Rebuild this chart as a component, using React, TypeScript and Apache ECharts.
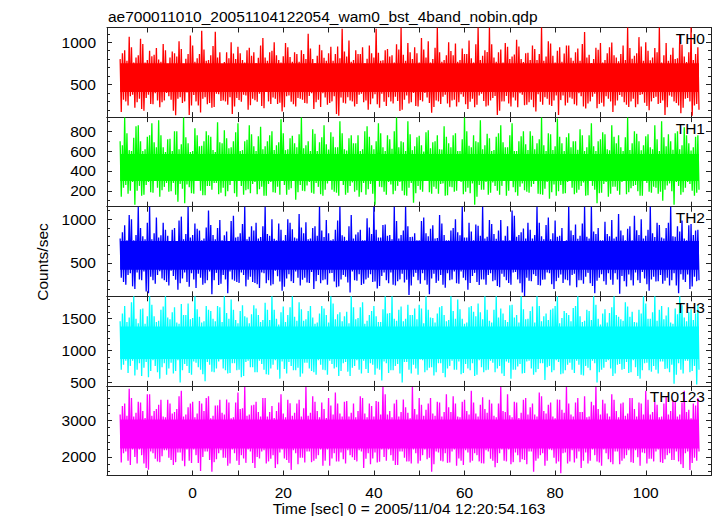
import React, { useEffect, useRef } from 'react';
import * as echarts from 'echarts';

const chartTitle = 'ae700011010_20051104122054_wam0_bst_4band_nobin.qdp';
const xTitle = 'Time [sec] 0 = 2005/11/04 12:20:54.163';
const yTitle = 'Counts/sec';
const bandNames = ['TH0', 'TH1', 'TH2', 'TH3', 'TH0123'];
const bandColors = ['#ff0000', '#00ff00', '#0000ff', '#00ffff', '#ff00ff'];

// time axis (seconds)
const xMin = -18.9;
const xMax = 114.4;
const binStart = -16;
const binWidth = 1;

// count-rate axes per panel
const yMins = [114, 40, 116, 446, 1497];
const yMaxs = [1174, 943, 1144, 1852, 3929];
const ySplit = [2, 5, 2, 3, 2];
const yMinorSplit = [5, 2, 5, 5, 5];

// dense core of each light curve (counts/sec)
const coreLo = [410, 300, 420, 870, 2230];
const coreHi = [750, 570, 750, 1380, 3020];

// upper / lower excursions, first half of each second
const th0Hi = [
  800, 905, 1065, 760, 845, 980, 790, 835, 930, 770,
  905, 820, 870, 1010, 745, 860, 960, 810, 1135, 780,
  845, 1125, 880, 765, 810, 865, 945, 790, 905, 840,
  755, 960, 820, 880, 1000, 790, 835, 940, 770, 860,
  905, 800, 925, 755, 970, 815, 870, 780, 950, 1160,
  830, 770, 905, 860, 750, 960, 820, 875, 785, 920,
  845, 975, 1170, 780, 880, 940, 760, 915, 1010, 800,
  1175, 770, 845, 895, 985, 790, 860, 1020, 760, 1175,
  840, 885, 975, 770, 915, 990, 800, 855, 950, 765,
  875, 960, 790, 1175, 830, 985, 760, 940, 865, 960,
  780, 925, 980, 820, 755, 935, 990, 790, 940, 845,
  775, 960, 1175, 805, 870, 950, 1000, 785, 930, 1175,
  845, 780, 935, 810, 970, 765, 1175, 860,
];
const th0Lo = [
  175, 300, 360, 225, 330, 190, 380, 265, 310, 290,
  400, 320, 135, 350, 300, 140, 375, 250, 330, 265,
  225, 390, 305, 300, 350, 240, 315, 380, 200, 330,
  295, 245, 410, 270, 330, 285, 230, 370, 265, 340,
  320, 275, 395, 290, 235, 345, 280, 360, 130, 285,
  350, 300, 270, 390, 310, 265, 385, 225, 295, 350,
  275, 305, 200, 370, 290, 245, 315, 400, 280, 235,
  300, 355, 275, 310, 240, 385, 265, 295, 230, 370,
  305, 250, 340, 140, 300, 365, 240, 310, 395, 255,
  290, 230, 385, 260, 330, 245, 370, 315, 250, 345,
  265, 395, 240, 275, 355, 220, 285, 360, 300, 250,
  375, 290, 235, 330, 265, 385, 245, 300, 355, 280,
  140, 370, 300, 250, 225, 340, 130, 270,
];
const th1Hi = [
  700, 940, 610, 735, 860, 600, 745, 880, 640, 760,
  590, 725, 800, 620, 940, 680, 600, 760, 655, 800,
  745, 590, 690, 810, 630, 700, 880, 610, 715, 770,
  600, 845, 650, 760, 610, 690, 780, 620, 755, 640,
  940, 660, 600, 775, 690, 860, 615, 745, 640, 780,
  605, 760, 680, 600, 800, 745, 620, 880, 640, 760,
  625, 940, 700, 600, 770, 650, 755, 595, 810, 690,
  760, 615, 745, 640, 780, 600, 940, 655, 760, 690,
  620, 775, 600, 745, 860, 640, 760, 600, 700, 800,
  610, 755, 680, 940, 600, 770, 650, 745, 600, 780,
  700, 615, 760, 640, 880, 600, 720, 770, 610, 745,
  760, 600, 940, 680, 775, 610, 750, 640, 860, 600,
  740, 770, 615, 800, 660, 760, 605, 745,
];
const th1Lo = [
  140, 260, 200, 60, 250, 160, 290, 180, 230, 205,
  280, 195, 160, 270, 75, 235, 170, 300, 155, 250,
  210, 280, 180, 145, 260, 175, 300, 160, 215, 270,
  165, 240, 150, 290, 180, 160, 260, 210, 300, 185,
  200, 255, 180, 280, 165, 210, 300, 190, 150, 260,
  180, 285, 205, 185, 160, 270, 60, 240, 190, 290,
  165, 250, 200, 150, 280, 175, 210, 300, 185, 240,
  170, 275, 155, 235, 200, 290, 190, 175, 60, 260,
  210, 160, 285, 200, 250, 150, 300, 185, 240, 205,
  180, 270, 170, 160, 290, 185, 150, 260, 175, 300,
  165, 210, 285, 155, 250, 75, 180, 290, 170, 240,
  160, 300, 185, 250, 195, 150, 280, 180, 230, 190,
  210, 275, 60, 250, 185, 290, 200, 180,
];
const th2Hi = [
  780, 930, 1050, 760, 1144, 805, 960, 770, 1020, 815,
  880, 745, 900, 985, 770, 1144, 820, 890, 760, 905,
  935, 770, 990, 815, 750, 1040, 800, 945, 770, 920,
  960, 795, 1144, 810, 775, 950, 760, 1000, 885, 780,
  905, 965, 780, 920, 1144, 795, 840, 770, 985, 815,
  760, 1050, 825, 880, 760, 905, 1144, 790, 935, 810,
  770, 980, 820, 1144, 795, 840, 760, 1020, 805, 930,
  785, 950, 760, 870, 1000, 815, 790, 960, 760, 925,
  1144, 800, 945, 775, 990, 810, 760, 1040, 820, 895,
  960, 780, 1144, 805, 935, 770, 985, 810, 750, 1144,
  820, 775, 950, 800, 1144, 830, 760, 970, 805, 780,
  1060, 815, 890, 760, 875, 1000, 810, 1144, 795, 935,
  780, 960, 805, 920, 985, 760, 945, 870,
];
const th2Lo = [
  330, 250, 380, 200, 310, 400, 150, 300, 360, 320,
  280, 410, 305, 265, 390, 225, 310, 375, 250, 300,
  140, 385, 260, 310, 400, 295, 270, 360, 305, 280,
  255, 390, 265, 240, 410, 285, 225, 370, 270, 330,
  305, 275, 395, 290, 265, 310, 380, 285, 230, 360,
  275, 400, 295, 245, 310, 370, 285, 235, 390, 265,
  250, 290, 375, 305, 240, 385, 260, 300, 140, 375,
  295, 250, 380, 310, 265, 400, 300, 270, 385, 245,
  310, 360, 290, 235, 375, 300, 250, 395, 265, 120,
  295, 370, 245, 305, 390, 255, 290, 365, 310, 240,
  375, 300, 260, 385, 235, 295, 370, 250, 305, 380,
  145, 290, 365, 240, 300, 395, 255, 310, 285, 360,
  295, 240, 380, 150, 305, 365, 230, 290,
];
const th3Hi = [
  1460, 1700, 1520, 1852, 1430, 1660, 1540, 1720, 1450, 1640,
  1852, 1490, 1680, 1420, 1560, 1740, 1510, 1650, 1440, 1700,
  1620, 1460, 1680, 1852, 1500, 1640, 1430, 1710, 1520, 1570,
  1660, 1450, 1750, 1480, 1640, 1410, 1690, 1560, 1852, 1470,
  1650, 1490, 1700, 1420, 1580, 1660, 1440, 1740, 1570, 1460,
  1610, 1852, 1490, 1680, 1420, 1560, 1700, 1450, 1650, 1580,
  1852, 1470, 1690, 1500, 1560, 1660, 1720, 1430, 1640, 1510,
  1580, 1700, 1460, 1852, 1500, 1650, 1420, 1680, 1610, 1740,
  1490, 1640, 1440, 1852, 1660, 1480, 1710, 1520, 1440, 1650,
  1500, 1690, 1852, 1460, 1580, 1640, 1700, 1430, 1620, 1560,
  1670, 1852, 1450, 1640, 1480, 1720, 1410, 1650, 1590, 1852,
  1530, 1470, 1690, 1610, 1440, 1580, 1740, 1500, 1852, 1640,
  1490, 1680, 1420, 1570, 1710, 1460, 1650, 1580,
];
const th3Lo = [
  700, 840, 760, 610, 800, 730, 580, 850, 660, 740,
  620, 810, 680, 500, 790, 650, 830, 740, 630, 820,
  670, 720, 860, 690, 650, 800, 700, 600, 840, 740,
  660, 790, 630, 720, 850, 560, 710, 820, 690, 730,
  640, 810, 680, 620, 780, 690, 840, 720, 600, 800,
  670, 730, 850, 640, 710, 800, 620, 700, 830, 650,
  690, 790, 500, 820, 640, 720, 860, 660, 730, 610,
  800, 650, 720, 840, 700, 630, 790, 690, 600, 850,
  660, 700, 810, 720, 640, 830, 560, 700, 790, 650,
  840, 620, 710, 800, 740, 660, 850, 630, 690, 810,
  650, 780, 610, 730, 840, 500, 700, 820, 720, 640,
  790, 710, 650, 850, 600, 690, 810, 670, 700, 830,
  710, 660, 480, 800, 640, 840, 680, 470,
];
const th0123Hi = [
  3150, 3450, 3850, 3100, 3500, 3250, 3700, 3120, 3300, 3550,
  3080, 3450, 3220, 3650, 3100, 3350, 3500, 3180, 3450, 3600,
  3050, 3400, 3550, 3150, 3480, 3080, 3750, 3320, 3120, 3400,
  3500, 3100, 3600, 3220, 3060, 3480, 3180, 3550, 3120, 3450,
  3100, 3900, 3200, 3500, 3080, 3300, 3600, 3150, 3450, 3100,
  3520, 3200, 3080, 3650, 3180, 3450, 3100, 3500, 3900, 3150,
  3080, 3550, 3220, 3350, 3050, 3300, 3600, 3120, 3450, 3180,
  3500, 3100, 3700, 3220, 3450, 3080, 3550, 3150, 3480, 3100,
  3620, 3200, 3450, 3080, 3900, 3220, 3130, 3500, 3060, 3550,
  3150, 3450, 3100, 3650, 3180, 3480, 3050, 3550, 3200, 3450,
  3100, 3600, 3220, 3080, 3500, 3900, 3150, 3450, 3100, 3550,
  3080, 3480, 3180, 3600, 3100, 3450, 3800, 3150, 3500, 3080,
  3450, 3150, 3550, 3100, 3480, 3220, 3050, 3400,
];
const th0123Lo = [
  1850, 2150, 1780, 2000, 2200, 1820, 1650, 2100, 1880, 2020,
  2180, 1920, 1860, 2120, 1750, 1900, 2200, 1840, 2000, 2150,
  1600, 1940, 2180, 1980, 1820, 2100, 1780, 1960, 2200, 1840,
  2000, 2150, 1820, 1950, 1700, 2120, 1960, 1840, 2180, 1800,
  1980, 2150, 1860, 1950, 2200, 1900, 1760, 2100, 1880, 1940,
  2180, 1990, 1880, 2150, 1950, 1800, 2120, 1870, 2000, 2200,
  1900, 1780, 2150, 1880, 1820, 2100, 1900, 2200, 1980, 1800,
  2120, 1880, 1840, 2150, 1760, 1900, 2180, 1850, 2100, 1880,
  1820, 2150, 1900, 1840, 2200, 1880, 1800, 2120, 1860, 1920,
  2150, 1600, 1960, 2100, 1900, 2180, 1820, 1560, 2120, 1880,
  1850, 2150, 1900, 1820, 2200, 1880, 1760, 2100, 1860, 2150,
  1800, 1960, 2180, 1840, 1990, 2120, 1820, 1950, 2150, 1860,
  1940, 2100, 1920, 1880, 1700, 2150, 1840, 1900,
];

// upper / lower excursions, second half of each second
const th0HiB = [
  870, 780, 940, 820, 1040, 760, 900, 850, 795, 980,
  745, 890, 830, 920, 805, 1080, 770, 860, 915, 790,
  955, 820, 740, 880, 1000, 800, 870, 760, 935, 880,
  815, 1050, 780, 900, 845, 760, 990, 825, 880, 770,
  860, 1100, 800, 840, 905, 780, 945, 860, 810, 890,
  1020, 790, 860, 940, 805, 870, 1160, 780, 905, 830,
  760, 915, 850, 990, 800, 870, 1050, 820, 760, 935,
  880, 790, 1000, 845, 770, 925, 860, 810, 975, 790,
  905, 1175, 820, 880, 760, 945, 830, 1030, 800, 870,
  790, 920, 860, 780, 1010, 840, 900, 770, 960, 815,
  880, 780, 1120, 850, 800, 910, 760, 870, 995, 820,
  860, 790, 930, 840, 1060, 780, 900, 820, 880, 760,
  990, 850, 800, 1090, 830, 880, 790, 940,
];
const th0LoB = [
  320, 250, 380, 290, 210, 340, 270, 395, 230, 310,
  360, 190, 330, 280, 405, 250, 300, 170, 350, 280,
  235, 385, 310, 260, 150, 340, 295, 370, 255, 315,
  390, 220, 300, 345, 270, 180, 360, 295, 240, 330,
  280, 365, 210, 320, 395, 260, 300, 150, 345, 275,
  310, 240, 380, 290, 200, 335, 265, 390, 245, 300,
  355, 185, 320, 275, 400, 240, 300, 345, 165, 310,
  270, 380, 230, 320, 290, 355, 210, 330, 260, 390,
  240, 310, 365, 190, 300, 275, 345, 230, 380, 260,
  320, 180, 295, 350, 260, 310, 140, 370, 285, 330,
  250, 360, 215, 300, 390, 270, 240, 330, 175, 310,
  355, 260, 300, 230, 375, 285, 195, 340, 270, 310,
  230, 355, 280, 160, 330, 300, 250, 200,
];
const th1HiB = [
  660, 780, 600, 850, 700, 620, 760, 690, 910, 640,
  720, 600, 800, 670, 740, 590, 830, 650, 700, 760,
  610, 890, 680, 730, 640, 790, 600, 700, 860, 650,
  750, 620, 700, 800, 660, 920, 610, 730, 680, 770,
  630, 700, 820, 600, 740, 670, 790, 640, 900, 620,
  730, 680, 760, 620, 850, 660, 700, 780, 600, 720,
  800, 640, 690, 900, 610, 740, 660, 790, 630, 700,
  620, 850, 680, 760, 600, 720, 800, 640, 700, 910,
  660, 730, 610, 780, 690, 640, 880, 600, 750, 670,
  800, 620, 720, 660, 780, 610, 930, 680, 740, 640,
  700, 820, 600, 760, 650, 700, 790, 620, 860, 680,
  640, 740, 610, 800, 700, 660, 770, 620, 720, 900,
  650, 700, 780, 620, 840, 680, 640, 760,
];
const th1LoB = [
  230, 170, 290, 200, 150, 260, 185, 300, 140, 240,
  190, 280, 90, 220, 265, 175, 300, 200, 155, 250,
  280, 165, 230, 195, 310, 140, 250, 205, 175, 290,
  215, 150, 270, 185, 240, 300, 160, 225, 110, 260,
  195, 290, 170, 240, 150, 275, 210, 180, 300, 160,
  250, 190, 140, 280, 215, 170, 300, 235, 160, 265,
  200, 290, 155, 230, 80, 250, 190, 300, 170, 220,
  270, 150, 240, 190, 300, 165, 230, 275, 140, 210,
  290, 180, 250, 160, 300, 200, 235, 150, 275, 190,
  240, 300, 165, 220, 120, 265, 195, 170, 290, 230,
  180, 250, 150, 300, 210, 175, 270, 140, 240, 200,
  290, 165, 225, 260, 150, 300, 190, 240, 170, 100,
  255, 195, 290, 160, 230, 270, 150, 210,
];
const th2HiB = [
  850, 760, 1000, 820, 900, 770, 1144, 840, 790, 960,
  810, 880, 750, 1030, 830, 790, 950, 870, 780, 1100,
  820, 900, 760, 860, 980, 790, 840, 1144, 800, 870,
  780, 920, 830, 1000, 760, 880, 820, 960, 790, 1060,
  840, 770, 900, 810, 870, 990, 760, 880, 1144, 800,
  920, 780, 850, 760, 1010, 830, 880, 790, 940, 820,
  1144, 780, 870, 920, 800, 760, 980, 840, 890, 780,
  1050, 820, 760, 900, 850, 1144, 790, 860, 940, 810,
  780, 990, 830, 870, 760, 920, 1100, 800, 850, 780,
  880, 820, 960, 770, 1020, 840, 800, 900, 760, 870,
  940, 810, 1144, 780, 860, 900, 760, 830, 990, 800,
  870, 760, 920, 1040, 820, 780, 880, 840, 960, 790,
  900, 1144, 800, 860, 780, 930, 820, 880,
];
const th2LoB = [
  280, 360, 230, 390, 300, 170, 340, 260, 405, 300,
  240, 350, 190, 320, 280, 380, 210, 330, 265, 400,
  300, 245, 360, 150, 310, 280, 390, 230, 340, 270,
  210, 380, 300, 255, 345, 180, 320, 290, 400, 240,
  330, 270, 200, 360, 300, 250, 385, 220, 310, 340,
  160, 300, 370, 260, 330, 280, 205, 350, 300, 390,
  240, 310, 275, 130, 340, 300, 380, 250, 320, 270,
  360, 215, 300, 400, 260, 330, 190, 350, 280, 310,
  250, 380, 300, 220, 340, 270, 390, 310, 160, 330,
  290, 350, 240, 310, 380, 200, 330, 270, 300, 360,
  220, 300, 340, 265, 150, 330, 290, 380, 250, 310,
  350, 230, 300, 390, 270, 320, 180, 340, 290, 260,
  330, 300, 240, 370, 280, 200, 340, 300,
];
const th3HiB = [
  1580, 1450, 1760, 1500, 1650, 1420, 1852, 1540, 1470, 1690,
  1520, 1600, 1440, 1730, 1560, 1490, 1852, 1530, 1460, 1640,
  1500, 1700, 1450, 1590, 1800, 1480, 1620, 1540, 1430, 1710,
  1560, 1480, 1640, 1852, 1500, 1600, 1450, 1680, 1530, 1760,
  1470, 1620, 1520, 1440, 1700, 1560, 1852, 1490, 1600, 1540,
  1430, 1680, 1510, 1760, 1470, 1620, 1540, 1450, 1852, 1590,
  1500, 1640, 1460, 1720, 1560, 1490, 1660, 1852, 1520, 1440,
  1680, 1560, 1480, 1620, 1800, 1500, 1440, 1700, 1540, 1600,
  1852, 1470, 1640, 1520, 1580, 1450, 1720, 1560, 1852, 1490,
  1620, 1440, 1700, 1540, 1480, 1660, 1852, 1510, 1590, 1460,
  1700, 1540, 1470, 1620, 1852, 1500, 1580, 1440, 1680, 1560,
  1490, 1760, 1530, 1450, 1640, 1852, 1500, 1600, 1470, 1700,
  1550, 1440, 1660, 1852, 1520, 1600, 1480, 1720,
];
const th3LoB = [
  780, 650, 840, 700, 600, 820, 680, 760, 560, 800,
  720, 640, 850, 690, 760, 620, 810, 700, 520, 780,
  660, 830, 720, 640, 800, 690, 580, 820, 740, 660,
  840, 700, 620, 780, 700, 830, 640, 760, 690, 590,
  810, 720, 660, 850, 700, 620, 790, 740, 680, 820,
  600, 760, 700, 840, 650, 780, 720, 530, 800, 690,
  760, 640, 820, 700, 780, 620, 850, 690, 740, 660,
  800, 580, 760, 700, 830, 650, 720, 800, 620, 740,
  690, 840, 660, 760, 600, 810, 700, 750, 640, 830,
  720, 660, 800, 540, 760, 690, 820, 640, 780, 700,
  840, 620, 760, 690, 800, 660, 730, 850, 600, 780,
  700, 820, 660, 740, 560, 800, 690, 760, 640, 830,
  720, 780, 620, 700, 840, 660, 760, 700,
];
const th0123HiB = [
  3380, 3120, 3600, 3200, 3480, 3060, 3700, 3250, 3420, 3100,
  3550, 3180, 3300, 3800, 3150, 3450, 3080, 3520, 3250, 3650,
  3120, 3400, 3200, 3560, 3050, 3480, 3300, 3900, 3150, 3420,
  3220, 3600, 3100, 3380, 3250, 3700, 3080, 3460, 3200, 3550,
  3320, 3120, 3650, 3250, 3480, 3060, 3400, 3750, 3180, 3500,
  3100, 3450, 3250, 3600, 3080, 3380, 3520, 3150, 3700, 3250,
  3450, 3100, 3560, 3200, 3900, 3150, 3420, 3280, 3600, 3120,
  3480, 3220, 3350, 3650, 3100, 3500, 3250, 3800, 3180, 3420,
  3300, 3550, 3120, 3450, 3250, 3700, 3080, 3480, 3200, 3600,
  3350, 3150, 3750, 3250, 3420, 3100, 3560, 3280, 3900, 3150,
  3480, 3220, 3650, 3100, 3400, 3300, 3550, 3180, 3700, 3250,
  3450, 3120, 3600, 3300, 3480, 3150, 3550, 3220, 3420, 3100,
  3650, 3250, 3500, 3150, 3800, 3280, 3450, 3600,
];
const th0123LoB = [
  2100, 1900, 2200, 1820, 2050, 1700, 2150, 1950, 1860, 2180,
  1980, 1780, 2120, 1900, 2200, 1840, 2050, 1620, 2150, 1920,
  1860, 2100, 1980, 1760, 2200, 1900, 2050, 1840, 2150, 1700,
  1960, 2180, 1880, 2050, 1800, 2200, 1920, 1650, 2100, 1980,
  1850, 2150, 1900, 2050, 1760, 2200, 1960, 1880, 2120, 1820,
  2050, 1920, 2180, 1700, 2100, 1960, 1850, 2200, 1900, 2050,
  1780, 2150, 1980, 1880, 2200, 1820, 2050, 1940, 1600, 2150,
  1900, 2100, 1850, 2200, 1960, 1780, 2120, 1900, 2050, 1830,
  2180, 1950, 1720, 2100, 1900, 2200, 1860, 2050, 1940, 1800,
  2150, 1900, 2050, 1760, 2200, 1980, 1880, 2100, 1820, 2180,
  1960, 1700, 2120, 1900, 2050, 1850, 2200, 1940, 1800, 2150,
  1900, 2050, 1860, 2180, 1760, 2100, 1950, 1880, 2200, 1840,
  2050, 1920, 2150, 1800, 2100, 1650, 1980, 2150,
];

const highs = [th0Hi, th1Hi, th2Hi, th3Hi, th0123Hi];
const lows = [th0Lo, th1Lo, th2Lo, th3Lo, th0123Lo];
const highsB = [th0HiB, th1HiB, th2HiB, th3HiB, th0123HiB];
const lowsB = [th0LoB, th1LoB, th2LoB, th3LoB, th0123LoB];

const FONT = '"Liberation Sans", Arial, Helvetica, sans-serif';
const FS = 15.5;
const AXIS_COLOR = '#222';

export default function App() {
  const ref = useRef<HTMLDivElement>(null);

  useEffect(() => {
    if (!ref.current) return;
    const chart = echarts.init(ref.current, undefined, { renderer: 'svg' });

    const left = 107;
    const right = 711;
    const top0 = 27.5;
    const ph = 89.6;

    const grids: any[] = [];
    const xAxes: any[] = [];
    const yAxes: any[] = [];
    const series: any[] = [];
    const graphics: any[] = [];

    for (let i = 0; i < 5; i++) {
      const top = top0 + i * ph;
      grids.push({ left, width: right - left, top, height: ph, containLabel: false });

      const tickStyle = { color: AXIS_COLOR, width: 1 };
      const baseX = {
        type: 'value',
        gridIndex: i,
        min: xMin,
        max: xMax,
        splitNumber: 13,
        axisLine: { show: true, onZero: false, lineStyle: { color: AXIS_COLOR, width: 1 } },
        axisTick: { show: true, inside: true, length: 5, lineStyle: tickStyle },
        minorTick: { show: false },
        splitLine: { show: false },
      };
      xAxes.push({
        ...baseX,
        position: 'bottom',
        axisLabel: {
          show: i === 4,
          margin: 9,
          color: '#000',
          fontSize: FS,
          fontFamily: FONT,
          showMinLabel: false,
          showMaxLabel: false,
          formatter: (v: number) => (Math.abs(v % 20) < 1e-6 ? String(Math.round(v)) : ''),
        },
      });
      xAxes.push({ ...baseX, position: 'top', axisLabel: { show: false } });

      const baseY = {
        type: 'value',
        gridIndex: i,
        min: yMins[i],
        max: yMaxs[i],
        splitNumber: ySplit[i],
        axisLine: { show: true, onZero: false, lineStyle: { color: AXIS_COLOR, width: 1 } },
        axisTick: { show: true, inside: true, length: 5, lineStyle: tickStyle },
        minorTick: { show: true, splitNumber: yMinorSplit[i], length: 3, lineStyle: tickStyle },
        splitLine: { show: false },
        minorSplitLine: { show: false },
      };
      yAxes.push({
        ...baseY,
        position: 'left',
        axisLabel: {
          show: true,
          margin: 11,
          color: '#000',
          fontSize: FS,
          fontFamily: FONT,
          showMinLabel: false,
          showMaxLabel: false,
          formatter: (v: number) => String(v),
        },
      });
      yAxes.push({ ...baseY, position: 'right', axisLabel: { show: false } });

      const hi = highs[i];
      const lo = lows[i];
      const hiB = highsB[i];
      const loB = lowsB[i];
      const n = Math.min(hi.length, lo.length, hiB.length, loB.length);
      const pts: number[][] = [];
      for (let k = 0; k < n; k++) {
        const t = binStart + k * binWidth;
        pts.push([t, hi[k]]);
        pts.push([t + binWidth * 0.25, lo[k]]);
        pts.push([t + binWidth * 0.5, hiB[k]]);
        pts.push([t + binWidth * 0.75, loB[k]]);
      }
      const tEnd = binStart + (n - 1) * binWidth + binWidth * 0.75;

      series.push({
        type: 'line',
        xAxisIndex: i * 2,
        yAxisIndex: i * 2,
        data: pts,
        symbol: 'none',
        showSymbol: false,
        silent: true,
        clip: true,
        lineStyle: { color: bandColors[i], width: 1.3 },
        itemStyle: { color: bandColors[i] },
        markArea: {
          silent: true,
          itemStyle: { color: bandColors[i], opacity: 1 },
          data: [[{ coord: [binStart, coreLo[i]] }, { coord: [tEnd, coreHi[i]] }]],
        },
      });

      graphics.push({
        type: 'text',
        x: 705,
        y: top + 11,
        z: 100,
        style: {
          text: bandNames[i],
          fill: '#000',
          fontSize: FS,
          fontFamily: FONT,
          align: 'right',
          verticalAlign: 'middle',
        },
      });
    }

    graphics.push({
      type: 'text',
      x: 108,
      y: 16,
      style: { text: chartTitle, fill: '#000', fontSize: FS, fontFamily: FONT, align: 'left', verticalAlign: 'middle' },
    });
    graphics.push({
      type: 'text',
      x: (left + right) / 2,
      y: 508,
      style: { text: xTitle, fill: '#000', fontSize: FS, fontFamily: FONT, align: 'center', verticalAlign: 'middle' },
    });
    graphics.push({
      type: 'text',
      x: 42,
      y: 262,
      rotation: Math.PI / 2,
      style: { text: yTitle, fill: '#000', fontSize: FS, fontFamily: FONT, align: 'center', verticalAlign: 'middle' },
    });

    chart.setOption({
      animation: false,
      backgroundColor: '#fff',
      grid: grids,
      xAxis: xAxes,
      yAxis: yAxes,
      series,
      graphic: graphics,
    });

    return () => chart.dispose();
  }, []);

  return (
    <div
      ref={ref}
      style={{ position: 'fixed', left: 0, top: 0, width: 717, height: 516, background: '#fff' }}
    />
  );
}
